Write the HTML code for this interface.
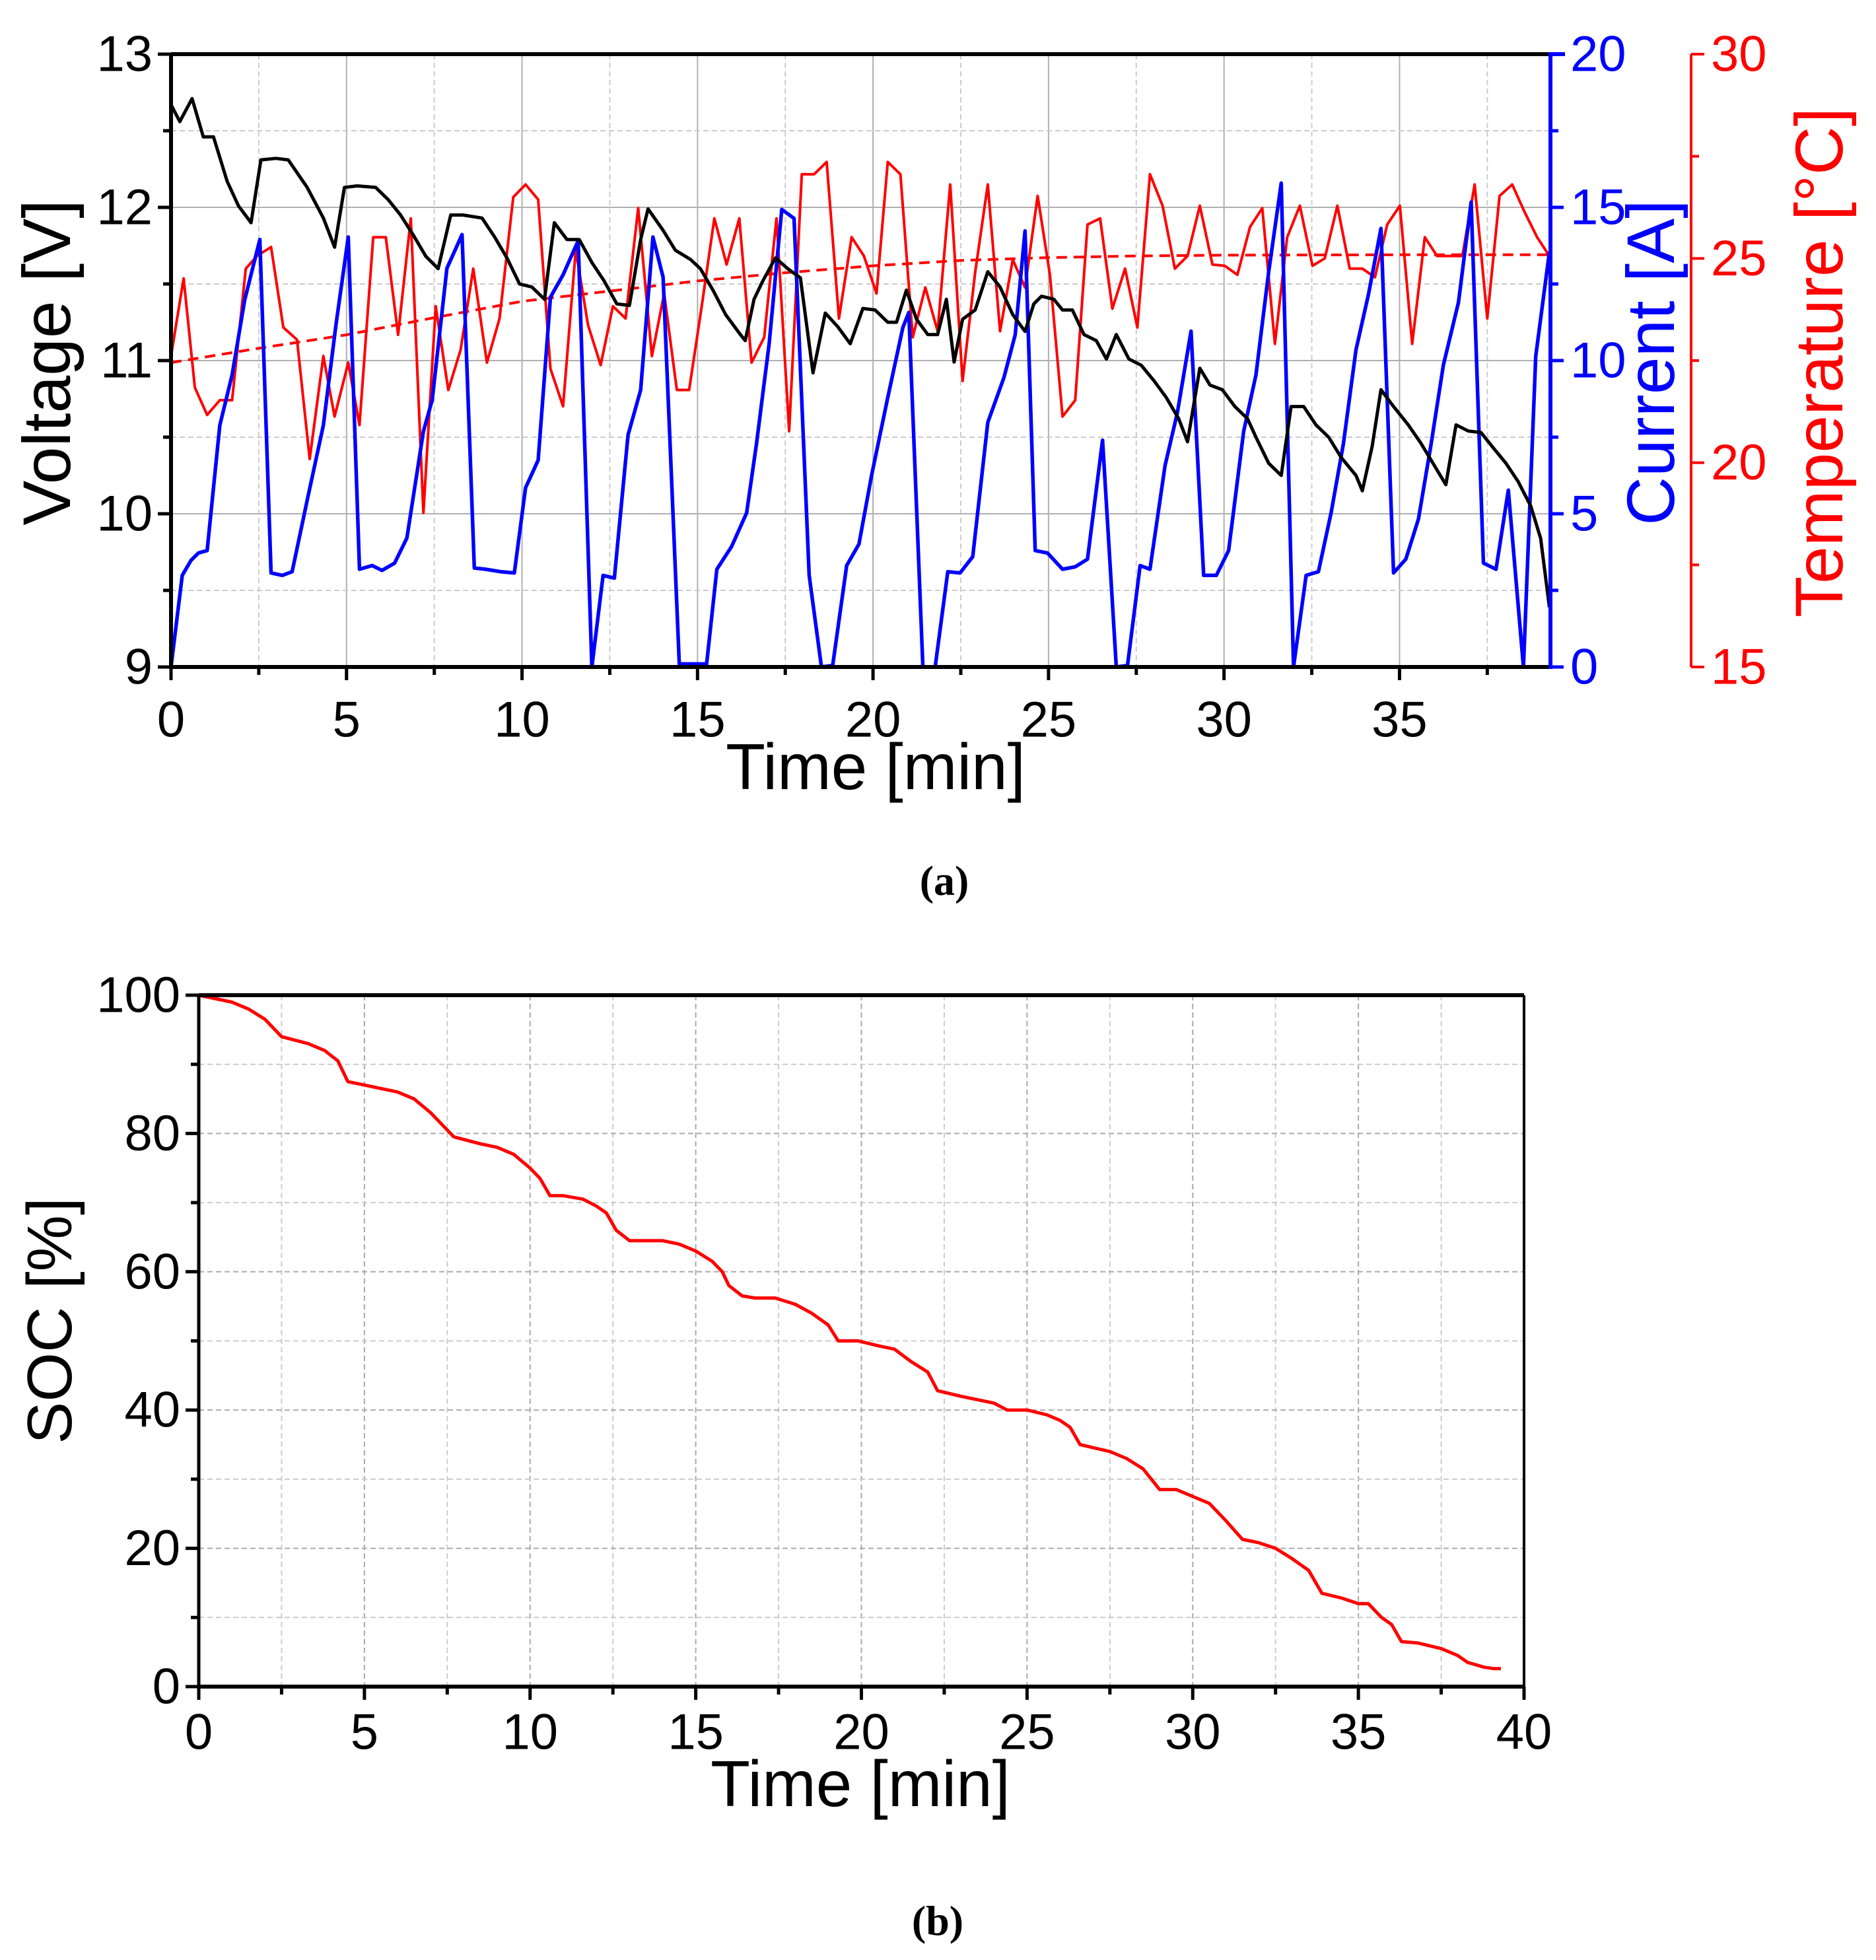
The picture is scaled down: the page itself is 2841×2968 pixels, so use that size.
<!DOCTYPE html>
<html><head><meta charset="utf-8">
<style>
html,body{margin:0;padding:0;background:#fff;}
svg{display:block;font-family:"Liberation Sans",Arial,sans-serif;}
</style></head>
<body>
<svg id="chart" width="2841" height="2968" viewBox="0 0 2841 2968" xmlns="http://www.w3.org/2000/svg">
<rect width="2841" height="2968" fill="#fff"/>
<g id="gridA"></g><g id="gridB"></g>
<g id="series"></g>
<g id="axes"></g>
<text x="0" y="0" transform="translate(106,549) rotate(-90)" text-anchor="middle" font-size="102">Voltage [V]</text>
<text x="0" y="0" transform="translate(2535,549) rotate(-90)" text-anchor="middle" font-size="102" fill="#0000ff">Current [A]</text>
<text x="0" y="0" transform="translate(2790,549) rotate(-90)" text-anchor="middle" font-size="102" fill="#ff0000">Temperature [°C]</text>
<text x="1326" y="1195" text-anchor="middle" font-size="98">Time [min]</text>
<text x="1430" y="1355" text-anchor="middle" font-size="64" font-weight="bold" font-family="Liberation Serif, serif">(a)</text>
<text x="0" y="0" transform="translate(108,2000) rotate(-90)" text-anchor="middle" font-size="96">SOC [%]</text>
<text x="1303" y="2735" text-anchor="middle" font-size="98">Time [min]</text>
<text x="1420" y="2930" text-anchor="middle" font-size="64" font-weight="bold" font-family="Liberation Serif, serif">(b)</text>
</svg>
<script>
const voltT=[0,0.25,0.6,0.92,1.21,1.6,1.92,2.28,2.56,2.99,3.34,3.88,4.34,4.66,4.94,5.3,5.83,6.19,6.54,6.9,7.26,7.61,7.97,8.32,8.86,9.21,9.57,9.93,10.28,10.64,10.92,11.28,11.63,11.99,12.34,12.7,13.06,13.38,13.59,14.02,14.37,14.8,15.08,15.44,15.8,16.22,16.36,16.61,16.86,17.22,17.57,17.93,18.29,18.64,19,19.35,19.71,20.06,20.42,20.67,20.95,21.24,21.56,21.84,22.09,22.31,22.55,22.91,23.27,23.62,23.98,24.33,24.58,24.8,25.15,25.4,25.68,26.01,26.36,26.65,26.93,27.29,27.64,28,28.35,28.71,28.96,29.31,29.6,29.95,30.31,30.67,30.91,31.27,31.63,31.91,32.27,32.62,32.98,33.33,33.76,33.94,34.22,34.47,34.83,35.25,35.61,36.32,36.61,36.96,37.32,37.67,38.03,38.38,38.74,39.02,39.27];
const voltV=[12.67,12.56,12.71,12.46,12.46,12.17,12.01,11.9,12.31,12.32,12.31,12.13,11.93,11.74,12.13,12.14,12.13,12.05,11.95,11.82,11.68,11.6,11.95,11.95,11.93,11.81,11.67,11.5,11.48,11.4,11.9,11.79,11.79,11.64,11.52,11.37,11.36,11.79,11.99,11.85,11.72,11.66,11.6,11.46,11.3,11.17,11.13,11.4,11.52,11.67,11.6,11.54,10.92,11.31,11.22,11.11,11.34,11.33,11.25,11.25,11.46,11.27,11.17,11.17,11.4,10.99,11.27,11.33,11.58,11.48,11.3,11.19,11.37,11.42,11.4,11.33,11.33,11.17,11.13,11.01,11.17,11.01,10.97,10.87,10.76,10.62,10.47,10.95,10.84,10.81,10.7,10.62,10.5,10.33,10.25,10.7,10.7,10.58,10.5,10.37,10.25,10.15,10.44,10.81,10.7,10.58,10.46,10.19,10.58,10.54,10.53,10.43,10.33,10.21,10.05,9.84,9.39];
const currT=[0,0.32,0.57,0.78,1.03,1.39,1.74,2.1,2.53,2.85,3.17,3.45,3.88,4.34,4.7,5.05,5.37,5.73,6.01,6.37,6.72,7.19,7.44,7.86,8.29,8.64,8.96,9.39,9.78,10.1,10.46,10.81,11.17,11.6,11.99,12.31,12.63,13.02,13.38,13.73,14.02,14.48,15.26,15.55,15.97,16.4,16.68,17.04,17.4,17.75,18.18,18.53,18.85,19.25,19.6,19.96,20.42,20.85,21.02,21.42,21.77,22.13,22.48,22.84,23.27,23.73,24.05,24.33,24.62,24.97,25.4,25.76,26.11,26.54,26.93,27.25,27.61,27.89,28.32,28.67,29.06,29.42,29.78,30.13,30.56,30.91,31.27,31.63,31.98,32.34,32.69,33.05,33.4,33.76,34.12,34.47,34.83,35.18,35.54,35.9,36.25,36.68,37.04,37.39,37.75,38.1,38.53,38.88,39.27];
const currI=[0,2.99,3.48,3.72,3.8,7.89,9.53,11.98,13.95,3.07,2.99,3.11,5.44,7.89,11.17,14.03,3.19,3.31,3.15,3.39,4.21,7.69,8.71,13.01,14.11,3.23,3.19,3.11,3.07,5.85,6.75,12.07,12.8,13.91,0,2.99,2.9,7.57,9.04,14.03,12.72,0.1,0.1,3.19,3.93,5.03,7.28,10.55,14.93,14.64,2.99,0,0.05,3.31,4.01,6.26,8.79,11.08,11.57,0,0,3.11,3.07,3.6,7.98,9.45,10.84,14.23,3.8,3.72,3.19,3.27,3.52,7.4,0,0.05,3.31,3.19,6.58,8.3,10.96,2.99,2.99,3.8,7.69,9.53,12.88,15.79,0,2.99,3.11,5.03,7.28,10.35,12.19,14.31,3.07,3.52,4.83,7.28,9.86,11.9,15.17,3.39,3.19,5.77,0,10.14,13.54];
const tempT=[0,0.36,0.68,1.03,1.39,1.74,2.13,2.45,2.85,3.2,3.59,3.95,4.34,4.66,5.05,5.37,5.76,6.12,6.47,6.83,7.19,7.54,7.9,8.25,8.61,9,9.36,9.75,10.1,10.46,10.81,11.17,11.53,11.88,12.24,12.59,12.95,13.31,13.7,14.05,14.41,14.76,15.12,15.48,15.83,16.19,16.54,16.9,17.25,17.61,17.97,18.32,18.68,19.03,19.39,19.74,20.1,20.42,20.78,21.13,21.49,21.84,22.2,22.55,22.91,23.27,23.62,23.98,24.33,24.69,25.04,25.4,25.76,26.11,26.47,26.82,27.18,27.53,27.89,28.25,28.6,28.96,29.31,29.67,30.02,30.38,30.74,31.09,31.45,31.8,32.16,32.52,32.87,33.23,33.58,33.94,34.3,34.65,35.01,35.36,35.72,36.07,36.43,36.79,37.14,37.5,37.85,38.21,38.56,38.92,39.27];
const tempC=[22.61,24.51,21.84,21.17,21.53,21.53,24.75,25.06,25.28,23.31,23.01,20.09,22.61,21.13,22.45,20.92,25.52,25.52,23.13,25.98,18.77,23.83,21.78,22.76,24.75,22.45,23.53,26.5,26.81,26.44,22.3,21.38,25.21,23.37,22.39,23.83,23.53,26.23,22.61,24.14,21.78,21.78,23.83,25.98,24.85,25.98,22.45,23.07,25.98,20.77,27.06,27.06,27.36,23.53,25.52,25.06,24.14,27.36,27.06,23.07,24.29,23.22,26.81,22,24.66,26.81,23.22,24.97,24.29,26.53,24.6,21.13,21.53,25.83,25.98,23.77,24.75,23.31,27.06,26.29,24.75,25.06,26.29,24.85,24.82,24.6,25.77,26.23,22.91,25.52,26.29,24.82,25,26.29,24.75,24.75,24.54,25.83,26.29,22.91,25.52,25.06,25.06,25.06,26.81,23.53,26.53,26.81,26.14,25.52,25.06];
const trendT=[0,2.5,5,7.5,10,12.5,15,17.5,20,22.5,25,27.5,30,35,39.27];
const trendC=[22.45,22.8,23.13,23.55,23.95,24.2,24.45,24.65,24.82,24.95,25.02,25.06,25.08,25.09,25.09];
const socT=[0,1,1.5,2,2.5,3.3,3.8,4.2,4.5,5,6,6.5,7,7.5,7.7,8.5,9,9.5,10,10.3,10.6,11,11.6,12,12.3,12.6,13,14,14.5,15,15.5,15.8,16,16.4,16.8,17.4,18,18.5,19,19.3,19.9,20.5,21,21.5,22,22.3,23,24,24.4,25,25.6,26,26.3,26.6,27.5,28,28.5,29,29.5,30,30.5,31,31.5,32,32.5,33,33.5,33.9,34.5,35,35.3,35.7,36,36.3,36.8,37.5,38,38.3,38.8,39.1,39.3];
const socV=[100,99,98,96.5,94,93,92,90.5,87.5,87,86,85,83,80.5,79.5,78.5,78,77,75,73.5,71,71,70.5,69.5,68.5,66,64.5,64.5,64,63,61.5,60,58,56.5,56.2,56.2,55.3,54,52.3,50,50,49.3,48.8,47,45.5,42.8,42,41,40,40,39.3,38.5,37.5,35,34,33,31.5,28.5,28.5,27.5,26.5,24,21.3,20.8,20,18.5,16.8,13.5,12.8,12,12,10,9,6.5,6.3,5.5,4.5,3.5,2.8,2.6,2.6];
const xTicksA=[0,5,10,15,20,25,30,35];
const vTicks=[9,10,11,12,13];
const iTicks=[0,5,10,15,20];
const cTicks=[15,20,25,30];
const xTicksB=[0,5,10,15,20,25,30,35,40];
const socTicks=[0,20,40,60,80,100];

const NS='http://www.w3.org/2000/svg';
function mk(tag,attrs,parent){const e=document.createElementNS(NS,tag);for(const k in attrs)e.setAttribute(k,attrs[k]);parent.appendChild(e);return e;}
const AL=259,AR=2348,AT=82,AB=1010,AXMAX=39.3;
const xA=t=>AL+t/AXMAX*(AR-AL);
const yV=v=>AB-(v-9)/4*(AB-AT);
const yI=i=>AB-i/20*(AB-AT);
const yC=c=>AB-(c-15)/15*(AB-AT);
const BL=301,BR=2308,BT=1507,BB=2554;
const xB=t=>BL+t/40*(BR-BL);
const yS=s=>BB-s/100*(BB-BT);

const gA=document.getElementById('gridA'),gB=document.getElementById('gridB'),S=document.getElementById('series'),X=document.getElementById('axes');
for(let t=2.5;t<AXMAX;t+=2.5){const maj=t%5===0;const l=mk('line',{x1:xA(t),x2:xA(t),y1:AT,y2:AB,stroke:maj?'#b0b0b0':'#ccc','stroke-width':2,'stroke-dasharray':maj?'none':'8 5'},gA);

}
for(let v=9.5;v<13;v+=0.5){const maj=v%1===0;const l=mk('line',{x1:AL,x2:AR,y1:yV(v),y2:yV(v),stroke:maj?'#b0b0b0':'#ccc','stroke-width':2,'stroke-dasharray':maj?'none':'8 5'},gA);

}
for(let t=2.5;t<40;t+=2.5){const maj=t%5===0;const l=mk('line',{x1:xB(t),x2:xB(t),y1:BT,y2:BB,stroke:maj?'#aaa':'#ccc','stroke-width':2,'stroke-dasharray':'8 5'},gB);

}
for(let s=10;s<100;s+=10){const maj=s%20===0;const l=mk('line',{x1:BL,x2:BR,y1:yS(s),y2:yS(s),stroke:maj?'#aaa':'#ccc','stroke-width':2,'stroke-dasharray':'8 5'},gB);

}

function poly(ts,vs,fx,fy,attrs,name){const pts=ts.map((t,i)=>fx(t).toFixed(1)+','+fy(vs[i]).toFixed(1)).join(' ');
const p=mk('polyline',Object.assign({points:pts,fill:'none','stroke-linejoin':'round'},attrs),S);

}
poly(tempT,tempC,xA,yC,{stroke:'#ff0000','stroke-width':4},'temperature-line');
poly(trendT,trendC,xA,yC,{stroke:'#ff0000','stroke-width':4,'stroke-dasharray':'16 10'},'temperature-trend-line');
poly(currT,currI,xA,yI,{stroke:'#0000ff','stroke-width':5.5},'current-line');
poly(voltT,voltV,xA,yV,{stroke:'#000','stroke-width':5},'voltage-line');
poly(socT,socV,xB,yS,{stroke:'#ff0000','stroke-width':5},'soc-line');

function line(x1,y1,x2,y2,c,w,name){const l=mk('line',{x1,y1,x2,y2,stroke:c,'stroke-width':w},X);

}
function txt(x,y,s,anchor,c,size,name){const e=mk('text',{x,y,'text-anchor':anchor,fill:c,'font-size':size,'dominant-baseline':'central'},X);e.textContent=s;

}
line(AL,AT,AR,AT,'#000',6,'top-frame');
line(AL,AB,AR,AB,'#000',6,'x-axis-a');
line(AL,AT,AL,AB+3,'#000',6,'voltage-axis');
line(AR,AT-3,AR,AB+3,'#0000ff',6,'current-axis');
line(AR,AT,AR+22,AT,'#0000ff',6,'current-axis-cap');
const TX=2561;
line(TX,AT,TX,AB,'#ff0000',4,'temperature-axis');
for(let t=0;t<AXMAX;t+=2.5){const maj=t%5===0;line(xA(t),AB,xA(t),AB+(maj?20:12),'#000',5,'x-tick');}
xTicksA.forEach(t=>txt(xA(t),1090,String(t),'middle','#000',76,'x-tick-label'));
for(let v=9;v<=13;v+=0.5){line(AL-(v%1===0?20:12),yV(v),AL,yV(v),'#000',5,'voltage-tick');}
vTicks.forEach(v=>txt(AL-28,yV(v),String(v),'end','#000',76,'voltage-tick-label'));
for(let i=0;i<=20;i+=2.5){line(AR,yI(i),AR+(i%5===0?20:12),yI(i),'#0000ff',5,'current-tick');}
iTicks.forEach(i=>txt(AR+30,yI(i),String(i),'start','#0000ff',76,'current-tick-label'));
for(let c=15;c<=30;c+=2.5){line(TX,yC(c),TX+(c%5===0?20:12),yC(c),'#ff0000',4,'temperature-tick');}
cTicks.forEach(c=>txt(TX+30,yC(c),String(c),'start','#ff0000',76,'temperature-tick-label'));
line(BL,BT,BR,BT,'#000',6,'top-frame-b');
line(BL,BB,BR,BB,'#000',6,'x-axis-b');
line(BL,BT,BL,BB+20,'#000',5,'soc-axis');
line(BR,BT,BR,BB+20,'#000',4,'right-frame-b');
for(let t=0;t<=40;t+=2.5){const maj=t%5===0;line(xB(t),BB,xB(t),BB+(maj?20:12),'#000',5,'x-tick');}
xTicksB.forEach(t=>txt(xB(t),2623,String(t),'middle','#000',76,'x-tick-label'));
for(let s=0;s<=100;s+=10){line(BL-(s%20===0?20:12),yS(s),BL,yS(s),'#000',5,'soc-tick');}
socTicks.forEach(s=>txt(BL-28,yS(s),String(s),'end','#000',76,'soc-tick-label'));
</script>
</body></html>
